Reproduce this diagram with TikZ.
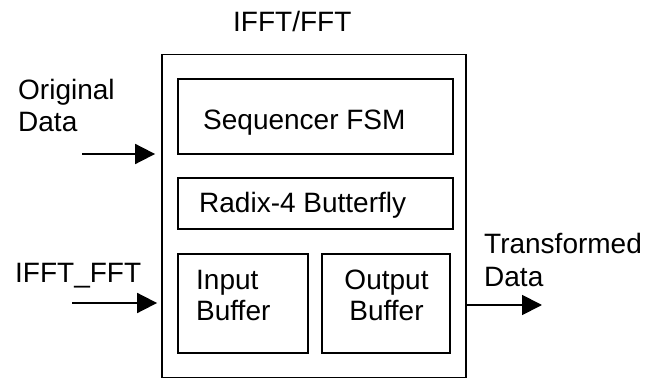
\documentclass[tikz,border=0pt]{standalone}
\usepackage{fontspec}
\setmainfont{Liberation Sans}
\usetikzlibrary{arrows.meta}
\begin{document}
\begin{tikzpicture}[x=1pt,y=-1pt,
  box/.style={draw=black,line width=1.8pt,minimum width=#1,inner sep=0pt},
  lbl/.style={inner sep=0pt,anchor=base west,font=\fontsize{28}{33}\selectfont},
  arr/.style={line width=1.8pt,-{Triangle[length=20pt,width=20pt]}}]
\useasboundingbox (0,0) rectangle (650,379);
% outer box
\node[box=304pt,minimum height=323pt] (outer) at (314,216) {};
\node[box=275pt,minimum height=75pt] (seq) at (315.5,116.5) {};
\node[box=275pt,minimum height=51pt] (rad) at (315.5,203.5) {};
\node[box=130pt,minimum height=99pt] (inb) at (243,303.5) {};
\node[box=128pt,minimum height=99pt] (outb) at (386,303.5) {};
% texts
\node[lbl] (title) at (233,32) {IFFT/FFT};
\node[lbl] (seqt) at (203,130) {Sequencer FSM};
\node[lbl] (radt) at (199,213) {Radix-4 Butterfly};
\node[lbl] (inb1) at (196,289) {Input};
\node[lbl] (inb2) at (196,320) {Buffer};
\node[lbl,anchor=base] (outb1) at (386.5,289) {Output};
\node[lbl,anchor=base] (outb2) at (386.5,320) {Buffer};
\node[lbl] (od1) at (18,100) {Original};
\node[lbl] (od2) at (18,132) {Data};
\node[lbl] (iff) at (15,283) {IFFT\_FFT};
\node[lbl] (td1) at (484,254) {Transformed};
\node[lbl] (td2) at (484,286) {Data};
% connectors
\coordinate (ods) at (82,154);
\coordinate (ifs) at (72,303);
\coordinate (tde) at (542,305);
\draw[arr,shorten >=6pt] (ods) -- (ods -| outer.west);
\draw[arr,shorten >=4pt] (ifs) -- (ifs -| outer.west);
\draw[arr] (tde -| outer.east) -- (tde);
\end{tikzpicture}
\end{document}
